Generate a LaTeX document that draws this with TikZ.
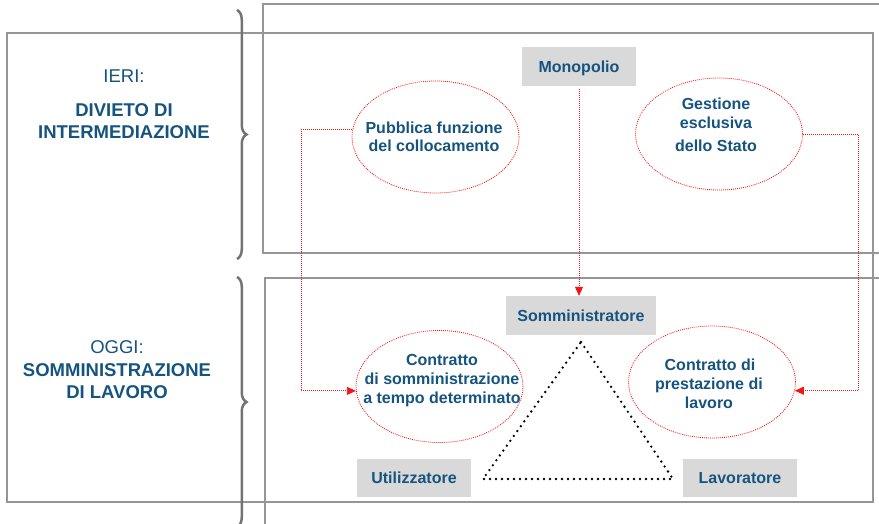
\documentclass[tikz,border=0pt]{standalone}
\usepackage{fontspec}
\setmainfont{Liberation Sans}
\usetikzlibrary{arrows.meta,decorations.pathreplacing,shapes.geometric}
\definecolor{txtblue}{RGB}{22,84,128}
\definecolor{boxgrey}{RGB}{217,217,217}
\definecolor{framegrey}{RGB}{150,150,150}
\definecolor{bracegrey}{RGB}{115,115,115}
\definecolor{dotred}{RGB}{245,20,20}
\begin{document}
\begin{tikzpicture}[x=1pt,y=-1pt,
  frame/.style={draw=framegrey,line width=1.1pt},
  brc/.style={draw=bracegrey,line width=2.5pt,decorate,decoration={brace,amplitude=9.5pt}},
  lbl/.style={text=txtblue,font=\fontsize{18.5}{22}\selectfont,anchor=base,inner sep=0pt},
  lblb/.style={text=txtblue,font=\fontsize{18.5}{22}\selectfont\bfseries,anchor=base,inner sep=0pt},
  greybox/.style={fill=boxgrey,text=txtblue,font=\fontsize{16}{19}\selectfont\bfseries,inner sep=0pt,text height=11.5pt,text depth=0pt},
  oval/.style={ellipse,draw=dotred,line width=0.8pt,dash pattern=on 0.9pt off 1.1pt,inner sep=0pt,minimum width=167pt,minimum height=112pt},
  ovtxt/.style={text=txtblue,font=\fontsize{16}{19}\selectfont\bfseries,anchor=base,inner sep=0pt},
  redcon/.style={draw=dotred,line width=0.8pt,dash pattern=on 0.9pt off 1.1pt,-{Triangle[length=9pt,width=8pt,fill=dotred,sep=0pt]}},
  tri/.style={draw=black,line width=2.6pt,line cap=round,dash pattern=on 0pt off 6pt}]
\clip (0,0) rectangle (879,524);
\useasboundingbox (0,0) rectangle (879,524);
\fill[white] (0,0) rectangle (879,524);
% frames
\draw[frame] (263,4) rectangle (895,253);
\draw[frame] (7,33) rectangle (873,502);
\draw[frame] (265,278) rectangle (895,540);
% braces
\draw[brc] (237,10) -- (237,259);
\draw[brc] (237,277) -- (237,527);
% left labels
\node[lbl] (ieri) at (124,83) {IERI:};
\node[lblb] (div1) at (124,117) {DIVIETO DI};
\node[lblb] (div2) at (124,139) {INTERMEDIAZIONE};
\node[lbl] (oggi) at (117,353) {OGGI:};
\node[lblb] (som1) at (117,376) {SOMMINISTRAZIONE};
\node[lblb] (som2) at (117,398) {DI LAVORO};
% grey boxes
\node[greybox,minimum width=114pt,minimum height=39pt] (mono) at (579,66.5) {Monopolio};
\node[greybox,minimum width=150pt,minimum height=39pt] (somm) at (581,315.5) {Somministratore};
\node[greybox,minimum width=114pt,minimum height=38pt] (util) at (414,478) {Utilizzatore};
\node[greybox,minimum width=114pt,minimum height=38pt] (lav) at (740,478) {Lavoratore};
% ellipses
\node[oval] (pub) at (435.5,137) {};
\node[oval] (ges) at (719,134) {};
\node[oval] (cs) at (439.5,386.5) {};
\node[oval] (cp) at (712,382) {};
% ellipse texts
\node[ovtxt] (pubt1) at (434,133.5) {Pubblica funzione};
\node[ovtxt] (pubt2) at (434,152) {del collocamento};
\node[ovtxt] (gest1) at (716,110) {Gestione};
\node[ovtxt] (gest2) at (716,129) {esclusiva};
\node[ovtxt] (gest3) at (716,152) {dello Stato};
\node[ovtxt] (cst1) at (442,365) {Contratto};
\node[ovtxt] (cst2) at (442,384) {di somministrazione};
\node[ovtxt] (cst3) at (442,403) {a tempo determinato};
\node[ovtxt] (cpt1) at (710,370) {Contratto di};
\node[ovtxt] (cpt2) at (709,389) {prestazione di};
\node[ovtxt] (cpt3) at (709,408) {lavoro};
% triangle
\coordinate (ta) at (581,342);
\coordinate (tl) at (483,479);
\coordinate (tr) at (673,479);
\draw[tri] (ta) -- (tr) -- (tl) -- cycle;
% red connectors
\draw[redcon] (pub.175) -- ++(-51,0) |- (cs.183);
\draw[redcon,shorten <=3pt] (mono.south) -- (mono.south |- somm.north);
\draw[redcon] (ges.east) -- ++(55,0) |- (cp.-6);
\end{tikzpicture}
\end{document}
